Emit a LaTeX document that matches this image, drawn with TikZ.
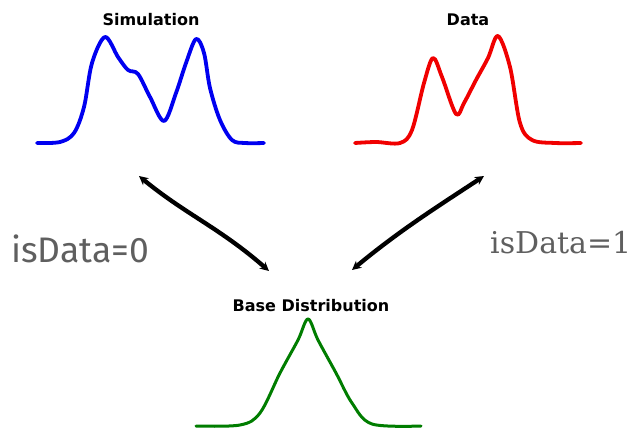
\documentclass[tikz,border=0pt]{standalone}
\usepackage{fontspec}
\setmainfont{DejaVu Sans}
\newfontfamily\titlefont{DejaVu Sans}
\newfontfamily\labsans{Fira Sans}
\newfontfamily\labserif{DejaVu Serif}
\usetikzlibrary{arrows.meta}
\definecolor{simblue}{RGB}{0,0,240}
\definecolor{datared}{RGB}{240,0,0}
\definecolor{basegreen}{RGB}{0,125,0}
\definecolor{labgray}{RGB}{95,95,95}
\tikzset{
  ttl/.style={font=\titlefont\bfseries\fontsize{16}{18}\selectfont, anchor=base, inner sep=0pt},
  curve/.style={line width=3.8pt, line cap=round, line join=round},
  link/.style={line width=4.3pt, line cap=round, {Stealth[length=9pt,width=9pt]}-{Stealth[length=9pt,width=9pt]}},
  lab/.style={text=labgray, anchor=base west, inner sep=0pt}
}
\begin{document}
\begin{tikzpicture}[x=1pt,y=-1pt]
\useasboundingbox (0,0) rectangle (631,428);
% titles
\node[ttl] (simt) at (151,26) {Simulation};
\node[ttl] (datat) at (468,26) {Data};
\node[ttl] (baset) at (311,311) {Base Distribution};
% simulation curve
\draw[curve, simblue] plot[smooth, tension=0.55] coordinates {
 (37,143) (60,142) (74,133) (84,107) (92,63) (105,37) (118,57) (128,70) (138,74) (150,97)
 (164,121) (176,93) (186,63) (196,39) (204,53) (210,88) (220,120) (232,140) (245,143) (264,143)};
% data curve
\draw[curve, datared] plot[smooth, tension=0.55] coordinates {
 (355,143) (376,142) (400,143) (412,130) (424,83) (433,58) (442,77) (456,114) (464,103)
 (476,80) (488,58) (498,36) (510,67) (520,123) (532,140) (555,143) (581,143)};
% base curve
\draw[curve, basegreen, line width=3pt] plot[smooth, tension=0.55] coordinates {
 (196,426) (240,425) (260,413) (280,373) (298,340) (308,319) (318,340) (336,373)
 (352,403) (372,424) (421,426)};
% arrow end points
\coordinate (a1) at (139,176);
\coordinate (a2) at (269,271);
\coordinate (b1) at (484,176);
\coordinate (b2) at (352,270);
\draw[link] (a1) .. controls (185,214) and (220,228) .. (a2);
\draw[link] (b1) .. controls (440,205) and (400,230) .. (b2);
% labels
\node[lab, font=\labsans\fontsize{35.5}{40}\selectfont] (l0) at (11,262) {isData=0};
\node[lab, font=\labserif\fontsize{30}{35}\selectfont] (l1) at (490,253) {isData=1};
\end{tikzpicture}
\end{document}
